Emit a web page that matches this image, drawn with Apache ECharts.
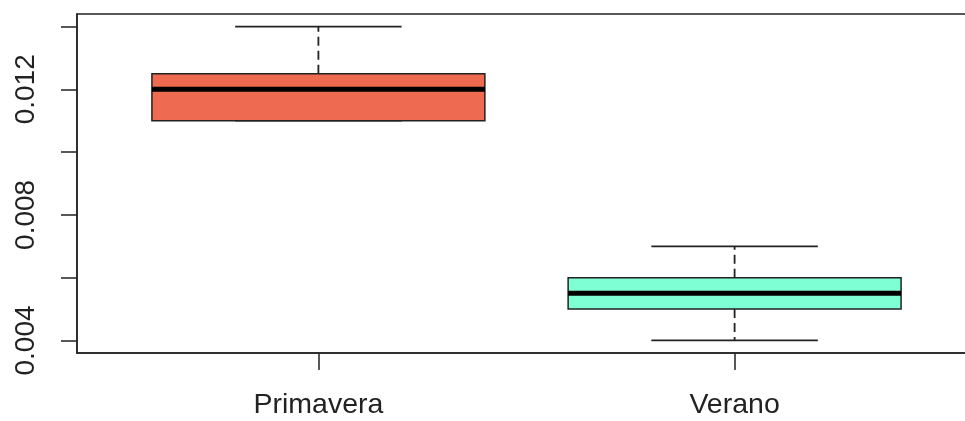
<!DOCTYPE html>
<html>
<head>
<meta charset="utf-8">
<script src="https://cdn.jsdelivr.net/npm/echarts@6/dist/echarts.min.js"></script>
<style>
  html, body { margin: 0; padding: 0; background: #fff; }
  #chart { width: 965px; height: 421px; }
</style>
</head>
<body>
<div id="chart"></div>
<script>
// estaciones y sus cinco numeros
var categories = ['Primavera', 'Verano'];
var mins = [0.011, 0.004];
var q1s = [0.011, 0.005];
var medians = [0.012, 0.0055];
var q3s = [0.0125, 0.006];
var maxs = [0.014, 0.007];
var fills = ['#EE6A50', '#7FFFD4'];

var yTicks = [0.004, 0.006, 0.008, 0.010, 0.012, 0.014];
var yLabels = [0.004, 0.008, 0.012];
var xTicks = [1, 2];

var seriesData = categories.map(function (c, i) {
    return [i + 1, mins[i], q1s[i], medians[i], q3s[i], maxs[i]];
});

var chart = echarts.init(document.getElementById('chart'));
var ink = '#222';

// dibuja una caja al estilo de R: caja, mediana gruesa, bigotes punteados
function renderBox(params, api) {
    var x = api.value(0);
    var boxHalf = 0.4, capHalf = 0.2;
    var pMinL = api.coord([x - capHalf, api.value(1)]);
    var pMinR = api.coord([x + capHalf, api.value(1)]);
    var pMaxL = api.coord([x - capHalf, api.value(5)]);
    var pMaxR = api.coord([x + capHalf, api.value(5)]);
    var pQ1 = api.coord([x - boxHalf, api.value(2)]);
    var pQ3 = api.coord([x + boxHalf, api.value(4)]);
    var pMedL = api.coord([x - boxHalf, api.value(3)]);
    var pMedR = api.coord([x + boxHalf, api.value(3)]);
    var pBoxLo = api.coord([x, api.value(2)]);
    var pBoxHi = api.coord([x, api.value(4)]);
    var pLow = api.coord([x, api.value(1)]);
    var pHigh = api.coord([x, api.value(5)]);
    var line = { stroke: ink, lineWidth: 1.8 };
    var dash = { stroke: ink, lineWidth: 1.8, lineDash: [9, 5] };
    return {
        type: 'group',
        children: [
            { type: 'line', shape: { x1: pBoxLo[0], y1: pBoxLo[1], x2: pLow[0], y2: pLow[1] }, style: dash },
            { type: 'line', shape: { x1: pBoxHi[0], y1: pBoxHi[1], x2: pHigh[0], y2: pHigh[1] }, style: dash },
            { type: 'line', shape: { x1: pMinL[0], y1: pMinL[1], x2: pMinR[0], y2: pMinR[1] }, style: line },
            { type: 'line', shape: { x1: pMaxL[0], y1: pMaxL[1], x2: pMaxR[0], y2: pMaxR[1] }, style: line },
            {
                type: 'rect',
                shape: { x: pQ1[0], y: pQ3[1], width: pQ3[0] - pQ1[0], height: pQ1[1] - pQ3[1] },
                style: { fill: fills[params.dataIndex], stroke: ink, lineWidth: 1.5 }
            },
            { type: 'line', shape: { x1: pMedL[0], y1: pMedL[1], x2: pMedR[0], y2: pMedR[1] }, style: { stroke: '#000', lineWidth: 5 } }
        ]
    };
}

var option = {
    animation: false,
    backgroundColor: '#fff',
    textStyle: { fontFamily: 'Liberation Sans' },
    grid: {
        left: 77,
        top: 14,
        width: 899,
        height: 339,
        outerBoundsMode: 'none',
        containLabel: false,
        show: true,
        borderColor: ink,
        borderWidth: 1.5
    },
    xAxis: {
        type: 'value',
        min: 0.42,
        max: 2.58,
        axisLine: { lineStyle: { color: ink, width: 1.5 } },
        axisTick: { customValues: xTicks, length: 17, lineStyle: { color: ink, width: 1.5 } },
        axisLabel: {
            customValues: xTicks,
            color: ink,
            fontSize: 28.5,
            margin: 38,
            formatter: function (v) { return categories[Math.round(v) - 1]; }
        },
        splitLine: { show: false }
    },
    yAxis: {
        type: 'value',
        min: 0.0036,
        max: 0.0144,
        axisLine: { show: true, lineStyle: { color: ink, width: 1.5 } },
        axisTick: { show: true, customValues: yTicks, length: 16, lineStyle: { color: ink, width: 1.5 } },
        axisLabel: {
            customValues: yLabels,
            color: ink,
            fontSize: 28,
            rotate: 90,
            margin: 37,
            formatter: function (v) { return v.toFixed(3); }
        },
        splitLine: { show: false }
    },
    series: [{
        type: 'custom',
        renderItem: renderBox,
        encode: { x: 0, y: [1, 2, 3, 4, 5] },
        data: seriesData
    }]
};

chart.setOption(option);
</script>
</body>
</html>
